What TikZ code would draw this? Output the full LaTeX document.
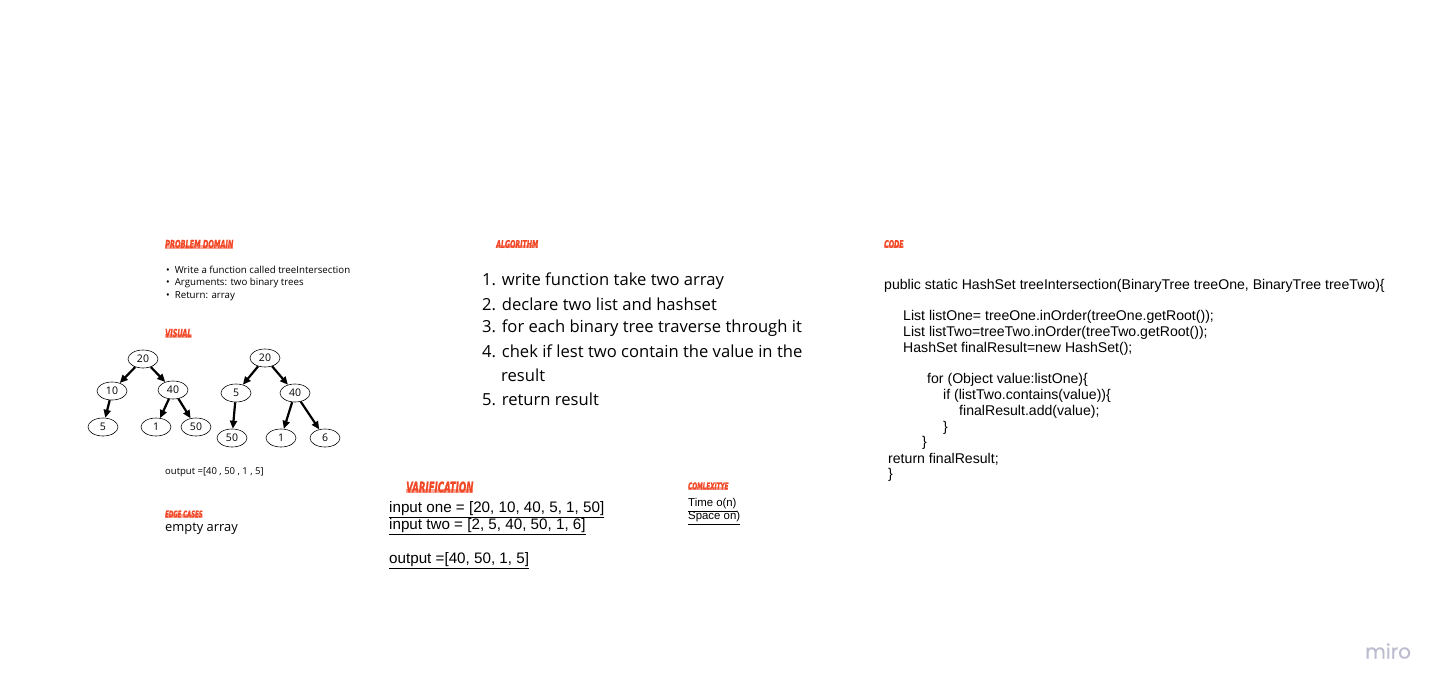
\documentclass[tikz,border=0pt]{standalone}
\usepackage{fontspec}
\setmainfont{Open Sans}
\newfontfamily\arial{Liberation Sans}
\newfontfamily\hdfont{DejaVu Sans Condensed}[BoldItalicFeatures={FakeBold=1.2}]
\newfontfamily\logofont{Poppins}[FakeBold=0.6]
\usetikzlibrary{shapes.geometric,arrows.meta}
\definecolor{hdred}{HTML}{F24726}
\definecolor{hdhl}{HTML}{F8A999}
\definecolor{logogray}{HTML}{BDBDD0}
\newcommand{\hdtext}[2]{{\hdfont\bfseries\itshape\fontsize{#1}{#1}\selectfont\scalebox{0.66}[1]{#2}}}
\tikzset{
  hd/.style={anchor=west, inner sep=0pt, text=hdred,
    path picture={\fill[hdhl] ([yshift=-2.5pt]path picture bounding box.south west) rectangle ([yshift=3pt]path picture bounding box.south east);}},
  opentext/.style={anchor=west, inner sep=0pt},
  codeline/.style={anchor=west, inner sep=0pt, font=\arial\fontsize{14.1}{15}\selectfont},
  verline/.style={anchor=west, inner sep=0pt, font=\arial\fontsize{15.2}{16}\selectfont},
  tnode/.style={ellipse, draw, line width=0.6pt, minimum width=30pt, minimum height=18pt, inner sep=0pt, font=\fontsize{10.5}{11}\selectfont},
  tedge/.style={line width=2.2pt, -{Triangle[length=8pt,width=7pt]}},
}
\begin{document}
\begin{tikzpicture}[x=1pt,y=-1pt]
\fill[white] (0,0) rectangle (1445,691);
\useasboundingbox (0,0) rectangle (1445,691);

% ---------- Problem domain ----------
\node[hd] (hpd) at (165,244) {\hdtext{11}{PROBLEM DOMAIN}};
\node[opentext, font=\fontsize{9.7}{10}\selectfont] (b1) at (166,270) {\textbullet\hspace{5pt}Write a function called treeIntersection};
\node[opentext, font=\fontsize{9.7}{10}\selectfont] (b2) at (166,283) {\textbullet\hspace{5pt}Arguments: two binary trees};
\node[opentext, font=\fontsize{9.7}{10}\selectfont] (b3) at (166,296) {\textbullet\hspace{5pt}Return: array};

\node[hd] (hvis) at (165,333) {\hdtext{11}{VISUAL}};

% tree one
\node[tnode] (a20) at (143,359) {20};
\node[tnode] (a10) at (112,391) {10};
\node[tnode] (a40) at (173,390) {40};
\node[tnode] (a5) at (103,427) {5};
\node[tnode] (a1) at (156,427) {1};
\node[tnode] (a50) at (196,427) {50};
\draw[tedge] (a20) -- (a10);
\draw[tedge] (a20) -- (a40);
\draw[tedge] (a10) -- (a5);
\draw[tedge] (a40) -- (a1);
\draw[tedge] (a40) -- (a50);

% tree two
\node[tnode] (b20) at (265,358) {20};
\node[tnode] (b5) at (236,393) {5};
\node[tnode] (b40) at (295,393) {40};
\node[tnode] (b50) at (232,438) {50};
\node[tnode] (bb1) at (281,438) {1};
\node[tnode] (b6) at (325,438) {6};
\draw[tedge] (b20) -- (b5);
\draw[tedge] (b20) -- (b40);
\draw[tedge] (b5) -- (b50);
\draw[tedge] (b40) -- (bb1);
\draw[tedge] (b40) -- (b6);

\node[opentext, font=\fontsize{9.5}{10}\selectfont] (out1) at (165,472) {output =[40 , 50 , 1 , 5]};

\node[hd] (hedge) at (165,514) {\hdtext{9}{EDGE CASES}};
\node[opentext, font=\fontsize{12.9}{14}\selectfont] (empty) at (165,529) {empty array};

% ---------- Algorithm ----------
\node[hd] (halg) at (496,244) {\hdtext{10.5}{ALGORITHM}};
\node[opentext, font=\fontsize{16.6}{18}\selectfont] (s1) at (482,281) {1. write function take two array};
\node[opentext, font=\fontsize{16.6}{18}\selectfont] (s2) at (482,304) {2. declare two list and hashset};
\node[opentext, font=\fontsize{16.6}{18}\selectfont] (s3) at (482,328) {3. for each binary tree traverse through it};
\node[opentext, font=\fontsize{16.6}{18}\selectfont] (s4) at (482,351) {4. chek if lest two contain the value in the};
\node[opentext, font=\fontsize{16.6}{18}\selectfont] (s4b) at (501,375) {result};
\node[opentext, font=\fontsize{16.6}{18}\selectfont] (s5) at (482,399) {5. return result};

% ---------- Verification ----------
\node[hd] (hver) at (406,487) {\hdtext{14.5}{VARIFICATION}};
\node[verline] (v1) at (389,510) {\underline{input one = [20, 10, 40, 5, 1, 50]}};
\node[verline] (v2) at (389,527) {\underline{input two = [2, 5, 40, 50, 1, 6]}};
\node[verline] (v3) at (389,561) {\underline{output =[40, 50, 1, 5]}};

% ---------- Complexity ----------
\node[hd] (hcx) at (688,486) {\hdtext{9.5}{COMLEXITYE}};
\node[opentext, font=\arial\fontsize{11.4}{12}\selectfont] (t1) at (688,505) {\underline{Time o(n)}};
\node[opentext, font=\arial\fontsize{11.4}{12}\selectfont] (t2) at (688,518) {\underline{Space on)}};

% ---------- Code ----------
\node[hd] (hcode) at (884,244) {\hdtext{10.5}{CODE}};
\node[codeline] (c1) at (884,286) {public static HashSet treeIntersection(BinaryTree treeOne, BinaryTree treeTwo)\{};
\node[codeline] (c2) at (903,317) {List listOne= treeOne.inOrder(treeOne.getRoot());};
\node[codeline] (c3) at (903,333) {List listTwo=treeTwo.inOrder(treeTwo.getRoot());};
\node[codeline] (c4) at (903,349) {HashSet finalResult=new HashSet();};
\node[codeline] (c5) at (927,380) {for (Object value:listOne)\{};
\node[codeline] (c6) at (943,396) {if (listTwo.contains(value))\{};
\node[codeline] (c7) at (959,412) {finalResult.add(value);};
\node[codeline] (c8) at (943,428) {\}};
\node[codeline] (c9) at (922,443) {\}};
\node[codeline] (c10) at (888,459) {return finalResult;};
\node[codeline] (c11) at (888,475) {\}};

% ---------- logo ----------
\node[anchor=west, inner sep=0pt, text=logogray, font=\logofont\fontsize{20}{22}\selectfont] (logo) at (1365,651) {miro};
\end{tikzpicture}
\end{document}
